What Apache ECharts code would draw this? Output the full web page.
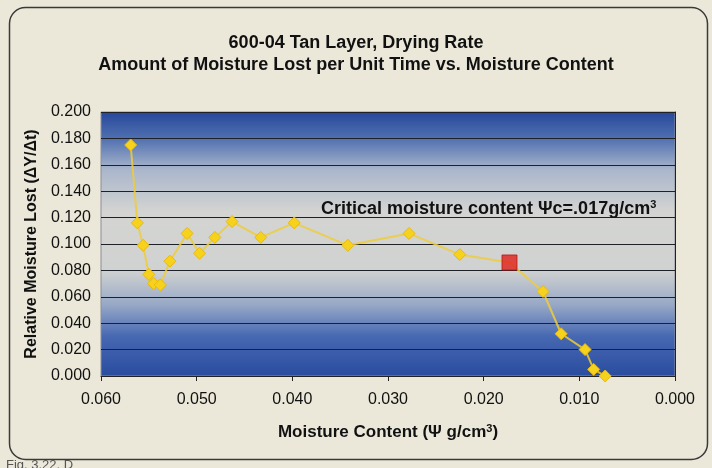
<!DOCTYPE html>
<html>
<head>
<meta charset="utf-8">
<script src="https://cdn.jsdelivr.net/npm/echarts@6/dist/echarts.min.js"></script>
<style>
  html, body { margin: 0; padding: 0; background: #ebe8da; }
  #chart { width: 712px; height: 468px; }
</style>
</head>
<body>
<div id="chart"></div>
<script>
// moisture content (g/cm3) and relative moisture lost per unit time
const moisture = [0.0569, 0.0562, 0.0556, 0.0550, 0.0545, 0.0538, 0.0528, 0.0510, 0.0497,
    0.0481, 0.0463, 0.0433, 0.0398, 0.0342, 0.0278, 0.0225, 0.0138, 0.0119, 0.0094, 0.0085, 0.0073];
const rate = [0.175, 0.116, 0.099, 0.077, 0.070, 0.069, 0.087, 0.108, 0.093,
    0.105, 0.117, 0.105, 0.116, 0.099, 0.108, 0.092, 0.064, 0.032, 0.020, 0.005, 0.000];

// critical moisture content point
const critX = [0.0173];
const critY = [0.086];

const xTicks = ["0.060", "0.050", "0.040", "0.030", "0.020", "0.010", "0.000"];
const yTicks = ["0.000", "0.020", "0.040", "0.060", "0.080", "0.100", "0.120", "0.140", "0.160", "0.180", "0.200"];

const font = "'Liberation Sans', Arial, sans-serif";

// line passes through the critical point, so merge it in (no marker there)
const linePoints = moisture.map((x, i) => ({ value: [x, rate[i]] }));
linePoints.push({ value: [critX[0], critY[0]], symbol: "none" });
linePoints.sort((a, b) => b.value[0] - a.value[0]);

const bgGradient = new echarts.graphic.LinearGradient(0, 0, 0, 1, [
    { offset: 0, color: "#26479a" },
    { offset: 0.1, color: "#4f6fb0" },
    { offset: 0.22, color: "#aab6cb" },
    { offset: 0.38, color: "#d4d5d2" },
    { offset: 0.6, color: "#d0d2d1" },
    { offset: 0.73, color: "#97a8c6" },
    { offset: 0.85, color: "#4668b2" },
    { offset: 1, color: "#2a4c9e" }
]);

const chart = echarts.init(document.getElementById("chart"));

chart.setOption({
    backgroundColor: "#ebe8da",
    animation: false,
    title: {
        text: "600-04 Tan Layer, Drying Rate\nAmount of Moisture Lost per Unit Time vs. Moisture Content",
        left: "center",
        top: 27,
        textStyle: {
            fontFamily: font,
            fontSize: 18,
            fontWeight: "bold",
            color: "#111",
            lineHeight: 22
        }
    },
    grid: {
        left: 101,
        right: 37,
        top: 112,
        bottom: 92,
        show: true,
        backgroundColor: bgGradient,
        borderColor: "#8a8f99",
        borderWidth: 1
    },
    xAxis: {
        type: "value",
        inverse: true,
        min: 0,
        max: 0.06,
        interval: 0.01,
        name: "Moisture Content (Ψ g/cm{sup|3})",
        nameLocation: "middle",
        nameGap: 47,
        nameTextStyle: {
            fontFamily: font,
            fontSize: 17,
            fontWeight: "bold",
            color: "#111",
            rich: { sup: { fontSize: 11, fontWeight: "bold", verticalAlign: "top", padding: [0, 0, 7, 0] } }
        },
        axisLine: { show: true, onZero: false, lineStyle: { color: "#222", width: 1 } },
        axisTick: { show: true, length: 5, lineStyle: { color: "#222" } },
        axisLabel: {
            fontFamily: font,
            fontSize: 16,
            color: "#111",
            margin: 16,
            formatter: v => xTicks[Math.round((0.06 - v) / 0.01)]
        },
        splitLine: { show: false }
    },
    yAxis: {
        type: "value",
        min: 0,
        max: 0.2,
        interval: 0.02,
        name: "Relative Moisture Lost (ΔY/Δt)",
        nameLocation: "middle",
        nameGap: 61,
        nameTextStyle: {
            fontFamily: font,
            fontSize: 16,
            fontWeight: "bold",
            color: "#111"
        },
        axisLine: { show: true, lineStyle: { color: "#222", width: 1 } },
        axisTick: { show: true, length: 5, lineStyle: { color: "#222" } },
        axisLabel: {
            fontFamily: font,
            fontSize: 16,
            color: "#111",
            margin: 10,
            formatter: v => yTicks[Math.round(v / 0.02)]
        },
        splitLine: { show: true, lineStyle: { color: "#1e2128", width: 1 } }
    },
    series: [
        {
            type: "line",
            data: linePoints,
            clip: false,
            symbol: "diamond",
            symbolSize: 12,
            lineStyle: { color: "#efcc3a", width: 2, opacity: 0.85 },
            itemStyle: { color: "#f6d21c", borderColor: "#e9b90c", borderWidth: 1 },
            z: 3
        },
        {
            type: "scatter",
            data: critX.map((x, i) => [x, critY[i]]),
            symbol: "rect",
            symbolSize: 15,
            itemStyle: { color: "#e0201c", borderColor: "#b81812", borderWidth: 1 },
            z: 4
        }
    ],
    graphic: [
        {
            type: "rect",
            left: 7,
            top: 5,
            shape: { width: 698, height: 452, r: 16 },
            style: { fill: "none", stroke: "#3a3a3a", lineWidth: 1.5 },
            z: -1,
            silent: true
        },
        {
            type: "text",
            left: 321,
            top: 199,
            z: 10,
            style: {
                text: "{a|Critical moisture content Ψc=.017g/cm}{s|3}",
                rich: {
                    a: { fontFamily: font, fontSize: 18, fontWeight: "bold", fill: "#111" },
                    s: { fontFamily: font, fontSize: 11, fontWeight: "bold", fill: "#111", verticalAlign: "top", padding: [0, 0, 9, 0] }
                }
            }
        },
        {
            type: "text",
            left: 6,
            top: 459,
            style: { text: "Fig. 3.22. D", fontFamily: font, fontSize: 13, fill: "#555" }
        }
    ]
});
</script>
</body>
</html>
